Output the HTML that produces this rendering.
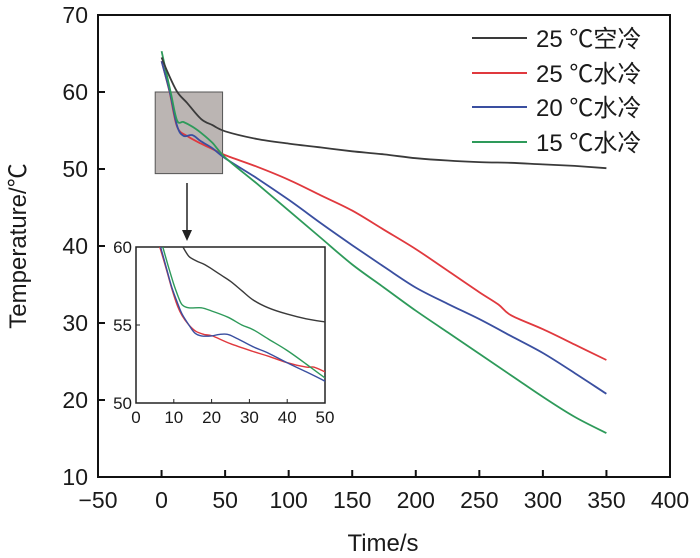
<!DOCTYPE html>
<html><head><meta charset="utf-8"><style>
body{margin:0;background:#fff;}
svg{display:block;font-family:"Liberation Sans","Noto Sans CJK SC",sans-serif;}
</style></head><body>
<svg id="c" width="700" height="558" viewBox="0 0 700 558"></svg>
<script>
const xTicks=[-50,0,50,100,150,200,250,300,350,400];
const yTicks=[10,20,30,40,50,60,70];
const seriesNames=["25 ℃空冷","25 ℃水冷","20 ℃水冷","15 ℃水冷"];
const seriesColors=["#3a3a3a","#e0393e","#3a4fa0","#2e9a5a"];
const tAir25=[0,5,12.4,20,31,40,50,75,100,125,150,175,200,225,250,275,300,325,350];
const vAir25=[64.5,62.5,60,58.6,56.5,55.7,54.9,53.9,53.3,52.8,52.3,51.9,51.4,51.1,50.9,50.8,50.6,50.4,50.1];
const tW25=[0,6.3,12.2,20,31,40,50,75,100,125,150,175,200,225,250,265,275,300,325,350];
const vW25=[64,60,55.5,54.3,53.3,52.6,51.8,50.3,48.6,46.6,44.6,42.1,39.6,36.8,34,32.4,31,29.2,27.2,25.2];
const tW20=[0,6.5,12.2,17.3,24.3,31,40,50,75,100,125,150,175,200,225,250,275,300,325,350];
const vW20=[64,60,55.6,54.3,54.4,53.6,52.7,51.4,48.8,46,43,40.1,37.3,34.6,32.5,30.5,28.3,26.1,23.5,20.8];
const tW15=[0,7.1,12.2,17.3,24.3,31,40,50,75,100,125,150,175,200,225,250,275,300,325,350];
const vW15=[65.3,60,56.3,56.1,55.5,54.7,53.4,51.5,48.1,44.6,41.1,37.6,34.6,31.6,28.8,26,23.2,20.4,17.8,15.7];
// inset
const insetXTicks=[0,10,20,30,40,50];
const insetYTicks=[50,55,60];
const iAirT=[12.4,14,16,18,20,22.5,25,28,31,35,40,45,50];
const iAirV=[60,59.4,59.1,58.9,58.6,58.2,57.8,57.2,56.6,56.1,55.7,55.4,55.2];
const iW25T=[6.3,8,9.5,11,12.2,14,15.8,18,20.2,25,31,35,39.8,45,47,50];
const iW25V=[60,58.6,57.3,56.2,55.6,55,54.6,54.4,54.3,53.8,53.3,53,52.6,52.3,52.3,52];
const iW20T=[6.5,8,9.5,11,12.2,14,15.5,17.3,20,22,24.3,27,31,35,39.8,45,50];
const iW20V=[60,58.7,57.4,56.4,55.7,55,54.5,54.3,54.3,54.4,54.4,54.1,53.6,53.2,52.6,52,51.4];
const iW15T=[7.1,8.5,10,11.2,12.2,14,17.3,20,24.3,28,31,35,39.8,45,50];
const iW15V=[60,58.8,57.6,56.8,56.3,56.1,56.1,55.9,55.5,55,54.7,54.1,53.4,52.5,51.6];

const svg=document.getElementById('c');
const NS="http://www.w3.org/2000/svg";
function mk(tag,attrs,parent){const e=document.createElementNS(NS,tag);for(const k in attrs)e.setAttribute(k,attrs[k]);(parent||svg).appendChild(e);return e;}
const L=98,R=670,T=15,B=477;
const X=v=>L+(v+50)/450*(R-L);
const Y=v=>B-(v-10)/60*(B-T);
const IL=136,IR=325,IT=247,IB=403;
const IX=v=>IL+v/50*(IR-IL);
const IY=v=>IB-(v-50)/10*(IB-IT);
function smooth(pts){
 let d='M'+pts[0][0].toFixed(1)+','+pts[0][1].toFixed(1);
 for(let i=0;i<pts.length-1;i++){
  const p0=pts[Math.max(i-1,0)],p1=pts[i],p2=pts[i+1],p3=pts[Math.min(i+2,pts.length-1)];
  const c1=[p1[0]+(p2[0]-p0[0])/6,p1[1]+(p2[1]-p0[1])/6];
  const c2=[p2[0]-(p3[0]-p1[0])/6,p2[1]-(p3[1]-p1[1])/6];
  d+=' C'+c1.map(v=>v.toFixed(1)).join(',')+' '+c2.map(v=>v.toFixed(1)).join(',')+' '+p2[0].toFixed(1)+','+p2[1].toFixed(1);
 }
 return d;
}

let e;
e=mk('rect',{x:X(-5),y:Y(60),width:X(48)-X(-5),height:Y(49.4)-Y(60),fill:'#bbb5b3',stroke:'#555','stroke-width':1});


const mainT=[tAir25,tW25,tW20,tW15],mainV=[vAir25,vW25,vW20,vW15];
const order=[1,2,3,0];
order.forEach(i=>{
 const pts=mainT[i].map((t,j)=>[X(t),Y(mainV[i][j])]);
 e=mk('path',{d:smooth(pts),fill:'none',stroke:seriesColors[i],'stroke-width':1.8,'stroke-linejoin':'round'});
 
 
});
e=mk('rect',{x:L,y:T,width:R-L,height:B-T,fill:'none',stroke:'#111','stroke-width':2});


xTicks.forEach(v=>{
 mk('line',{x1:X(v),x2:X(v),y1:B,y2:B-7,stroke:'#111','stroke-width':2});
 e=mk('text',{x:X(v),y:B+31,'text-anchor':'middle','font-size':23,fill:'#1a1a1a'});
 e.textContent=v<0?'−'+(-v):v;
 
 
});
yTicks.forEach(v=>{
 mk('line',{x1:L,x2:L+7,y1:Y(v),y2:Y(v),stroke:'#111','stroke-width':2});
 e=mk('text',{x:L-10,y:Y(v)+8,'text-anchor':'end','font-size':23,fill:'#1a1a1a'});
 e.textContent=v;
 
 
});
e=mk('text',{x:383,y:551,'text-anchor':'middle','font-size':24,fill:'#1a1a1a'});e.textContent='Time/s';


e=mk('text',{x:0,y:0,transform:'translate(26,246) rotate(-90)','text-anchor':'middle','font-size':24,fill:'#1a1a1a'});e.textContent='Temperature/℃';


const ly=[38,73,107,142];
seriesNames.forEach((n,i)=>{
 mk('line',{x1:472,x2:527,y1:ly[i],y2:ly[i],stroke:seriesColors[i],'stroke-width':2});
 e=mk('text',{x:536,y:ly[i]+9,'font-size':24,fill:'#1a1a1a'});e.textContent=n;
 
 
});
mk('line',{x1:187,x2:187,y1:183,y2:232,stroke:'#222','stroke-width':1.5});
e=mk('polygon',{points:'182,230 192,230 187,241',fill:'#222'});


e=mk('rect',{x:IL,y:IT,width:IR-IL,height:IB-IT,fill:'#fff',stroke:'#222','stroke-width':1.5});


const cp=mk('clipPath',{id:'ic'});mk('rect',{x:IL,y:IT,width:IR-IL,height:IB-IT},cp);
const iT=[iAirT,iW25T,iW20T,iW15T],iV=[iAirV,iW25V,iW20V,iW15V];
order.forEach(i=>{
 const pts=iT[i].map((t,j)=>[IX(t),IY(iV[i][j])]);
 e=mk('path',{d:smooth(pts),fill:'none',stroke:seriesColors[i],'stroke-width':1.4,'clip-path':'url(#ic)'});
 
 
});
insetXTicks.forEach(v=>{
 mk('line',{x1:IX(v),x2:IX(v),y1:IB,y2:IB-4,stroke:'#222','stroke-width':1});
 e=mk('text',{x:IX(v),y:IB+20,'text-anchor':'middle','font-size':17,fill:'#1a1a1a'});e.textContent=v;
 
 
});
insetYTicks.forEach(v=>{
 mk('line',{x1:IL,x2:IL+4,y1:IY(v),y2:IY(v),stroke:'#222','stroke-width':1});
 e=mk('text',{x:IL-4,y:IY(v)+6,'text-anchor':'end','font-size':17,fill:'#1a1a1a'});e.textContent=v;
 
 
});
</script>
</body></html>
